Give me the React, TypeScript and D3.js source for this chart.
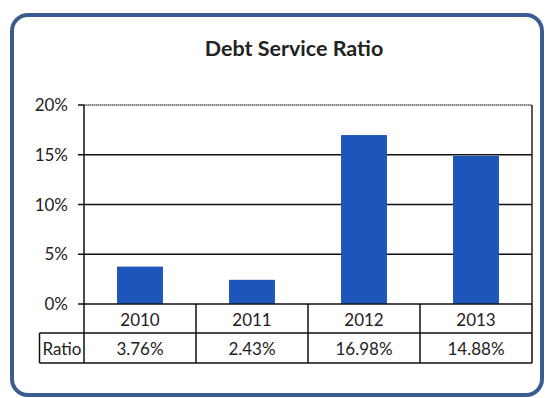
import React from "react";
import * as d3 from "d3";

const categories = ["2010", "2011", "2012", "2013"];
const ratios = [3.76, 2.43, 16.98, 14.88];
const ratioLabels = ["3.76%", "2.43%", "16.98%", "14.88%"];
const yTicks = [0, 5, 10, 15, 20];
const rowLabel = "Ratio";
const title = "Debt Service Ratio";

export default function App() {
  const W = 546, H = 398;
  const left = 84, right = 532, top = 105, bottom = 304;
  const x = d3.scaleBand<string>().domain(categories).range([left, right]).paddingInner(0).paddingOuter(0);
  const y = d3.scaleLinear().domain([0, 20]).range([bottom, top]);
  const barW = x.bandwidth() * 0.41;
  const row1 = bottom, row2 = 333, row3 = 363;
  const font = "Lato, 'Open Sans', sans-serif";

  return (
    <svg width={W} height={H} style={{ position: "absolute", left: 0, top: 0, display: "block" }}>
      <rect x={0} y={0} width={W} height={H} fill="#ffffff" />
      <rect x={12} y={15} width={530} height={380} rx={16} ry={16} fill="#ffffff" stroke="#3a5c8e" strokeWidth={4} />
      <text x={294} y={56} textAnchor="middle" fontFamily={font} fontWeight={700} fontSize={21.5} fill="#222">{title}</text>

      {/* grid lines */}
      {yTicks.filter((t) => t > 0 && t < 20).map((t) => (
        <line key={t} x1={left} x2={right} y1={y(t)} y2={y(t)} stroke="#111" strokeWidth={1.5} />
      ))}
      <line x1={left} x2={right} y1={y(20)} y2={y(20)} stroke="#555" strokeWidth={1.5} strokeDasharray="1.5 0.5" />
      <line x1={right} x2={right} y1={y(20)} y2={row1} stroke="#222" strokeWidth={1.5} />

      {/* bars */}
      {categories.map((c, i) => (
        <rect key={c} x={(x(c) as number) + (x.bandwidth() - barW) / 2} y={y(ratios[i])} width={barW} height={bottom - y(ratios[i])} fill="#1d55b8" />
      ))}

      {/* y axis */}
      <line x1={left} x2={left} y1={y(20)} y2={row3} stroke="#111" strokeWidth={1.5} />
      {yTicks.map((t) => (
        <g key={t}>
          <line x1={left - 6} x2={left} y1={y(t)} y2={y(t)} stroke="#111" strokeWidth={1.5} />
          <text x={68} y={y(t) + 6} textAnchor="end" fontFamily={font} fontSize={17} fill="#222">{t}%</text>
        </g>
      ))}

      {/* data table */}
      <line x1={left} x2={right} y1={row1} y2={row1} stroke="#111" strokeWidth={1.5} />
      <line x1={39.5} x2={right} y1={row2} y2={row2} stroke="#111" strokeWidth={1.5} />
      <line x1={39.5} x2={right} y1={row3} y2={row3} stroke="#111" strokeWidth={1.5} />
      <line x1={39.5} x2={39.5} y1={row2} y2={row3} stroke="#111" strokeWidth={1.5} />
      {categories.map((c) => (
        <line key={c} x1={(x(c) as number) + x.bandwidth()} x2={(x(c) as number) + x.bandwidth()} y1={row1} y2={row3} stroke="#111" strokeWidth={1.5} />
      ))}
      {categories.map((c, i) => (
        <g key={c}>
          <text x={(x(c) as number) + x.bandwidth() / 2} y={row1 + 22} textAnchor="middle" fontFamily={font} fontSize={17} fill="#222">{c}</text>
          <text x={(x(c) as number) + x.bandwidth() / 2} y={row2 + 22} textAnchor="middle" fontFamily={font} fontSize={17} fill="#222">{ratioLabels[i]}</text>
        </g>
      ))}
      <text x={62} y={row2 + 22} textAnchor="middle" fontFamily={font} fontSize={17} fill="#222">{rowLabel}</text>
    </svg>
  );
}
